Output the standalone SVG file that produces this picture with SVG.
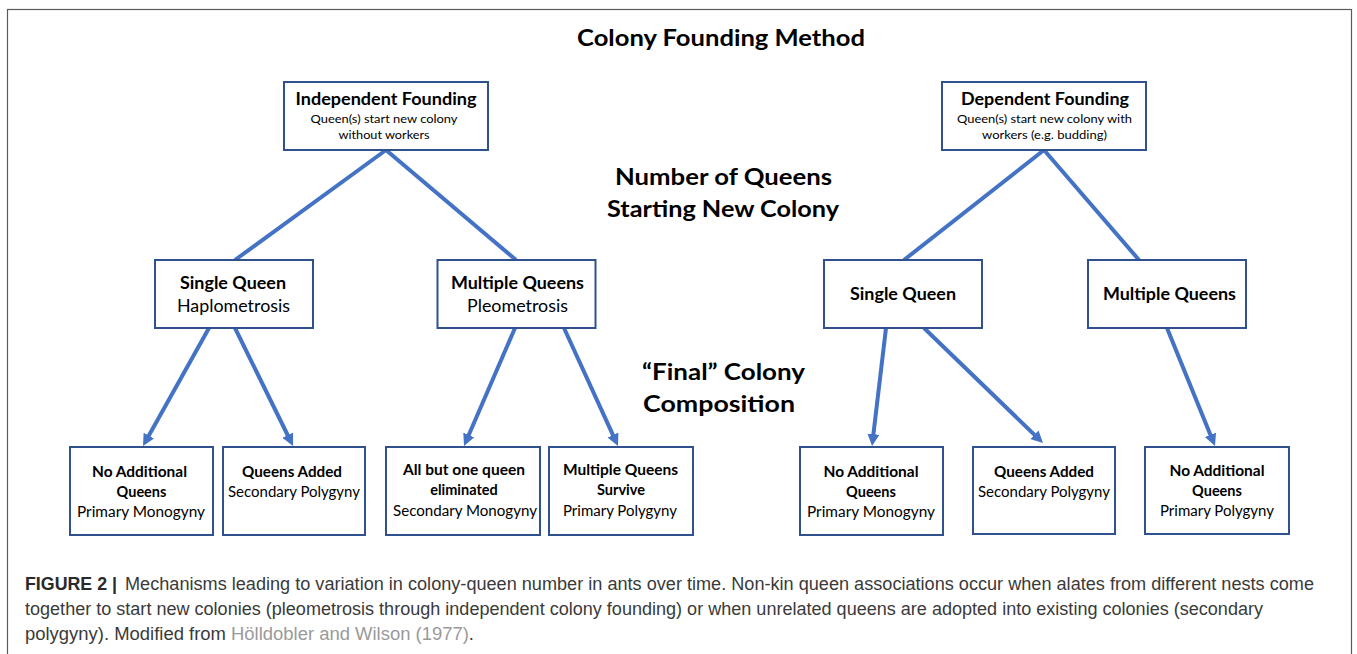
<svg xmlns="http://www.w3.org/2000/svg" width="1357" height="654" viewBox="0 0 1357 654">
<style>
.frame{fill:none;stroke:#5a5a5a;stroke-width:1.2}
.box{fill:#ffffff;stroke:#2F528F;stroke-width:2}
.con{stroke:#4472C4;stroke-width:4;fill:none;stroke-linecap:butt}
.t{font-family:Lato,"Open Sans","DejaVu Sans",sans-serif;fill:#000;text-anchor:middle}
.h1{font-size:23px;font-weight:bold}
.hb{font-size:16.5px;font-weight:bold}
.hr{font-size:16.5px}
.sm{font-size:12px}
.bb{font-size:14.5px;font-weight:bold}
.br{font-size:14.5px}
.cap{font-family:"Liberation Sans",Arial,sans-serif;font-size:17.5px;fill:#3a3a3a}
.capb{font-weight:bold;fill:#2a2a2a}
.link{fill:#9a9a9a}
</style>
<defs>
<marker id="ah" markerUnits="userSpaceOnUse" markerWidth="14" markerHeight="14" refX="2" refY="6" orient="auto">
<path d="M0,0 L12,6 L0,12 z" fill="#4472C4"/>
</marker>
</defs>
<rect width="1357" height="654" fill="#ffffff"/>
<rect class="frame" x="7.5" y="9.5" width="1344" height="700"/>

<g id="titles">
<text class="t h1" x="721" y="46" textLength="288" lengthAdjust="spacingAndGlyphs">Colony Founding Method</text>
<text class="t h1" x="723.5" y="185" textLength="217" lengthAdjust="spacingAndGlyphs">Number of Queens</text>
<text class="t h1" x="723" y="217" textLength="232" lengthAdjust="spacingAndGlyphs">Starting New Colony</text>
<text class="t h1" x="723.5" y="380" textLength="163" lengthAdjust="spacingAndGlyphs">“Final” Colony</text>
<text class="t h1" x="719" y="412" textLength="152" lengthAdjust="spacingAndGlyphs">Composition</text>
</g>

<g id="connectors">
<line class="con" x1="386" y1="150" x2="235" y2="260"/>
<line class="con" x1="386" y1="150" x2="516" y2="260"/>
<line class="con" x1="1044" y1="150" x2="904" y2="260"/>
<line class="con" x1="1044" y1="150" x2="1139" y2="260"/>
<line class="con" x1="209" y1="328" x2="147.9" y2="437.3" marker-end="url(#ah)"/>
<line class="con" x1="235" y1="328" x2="288.6" y2="437.0" marker-end="url(#ah)"/>
<line class="con" x1="515" y1="328" x2="468.0" y2="436.8" marker-end="url(#ah)"/>
<line class="con" x1="564" y1="328" x2="613.8" y2="436.9" marker-end="url(#ah)"/>
<line class="con" x1="886" y1="328" x2="873.2" y2="436.1" marker-end="url(#ah)"/>
<line class="con" x1="924" y1="328" x2="1035.8" y2="436.1" marker-end="url(#ah)"/>
<line class="con" x1="1167" y1="328" x2="1211.2" y2="436.7" marker-end="url(#ah)"/>
</g>

<g id="independent">
<rect class="box" x="284" y="82" width="204" height="68"/>
<text class="t hb" x="386" y="105" textLength="181" lengthAdjust="spacingAndGlyphs">Independent Founding</text>
<text class="t sm" x="384" y="123" textLength="147" lengthAdjust="spacingAndGlyphs">Queen(s) start new colony</text>
<text class="t sm" x="384" y="139" textLength="91" lengthAdjust="spacingAndGlyphs">without workers</text>
</g>
<g id="dependent">
<rect class="box" x="942" y="82" width="204" height="68"/>
<text class="t hb" x="1045" y="105" textLength="168" lengthAdjust="spacingAndGlyphs">Dependent Founding</text>
<text class="t sm" x="1044.5" y="123" textLength="175" lengthAdjust="spacingAndGlyphs">Queen(s) start new colony with</text>
<text class="t sm" x="1044.5" y="139" textLength="125" lengthAdjust="spacingAndGlyphs">workers (e.g. budding)</text>
</g>

<g id="single-left">
<rect class="box" x="155" y="260" width="158" height="68"/>
<text class="t hb" x="233" y="289" textLength="106" lengthAdjust="spacingAndGlyphs">Single Queen</text>
<text class="t hr" x="233.5" y="312" textLength="113" lengthAdjust="spacingAndGlyphs">Haplometrosis</text>
</g>
<g id="multiple-left">
<rect class="box" x="437.5" y="260" width="158" height="68"/>
<text class="t hb" x="517.5" y="289" textLength="133" lengthAdjust="spacingAndGlyphs">Multiple Queens</text>
<text class="t hr" x="517.5" y="312" textLength="101" lengthAdjust="spacingAndGlyphs">Pleometrosis</text>
</g>
<g id="single-right">
<rect class="box" x="824" y="260" width="158" height="68"/>
<text class="t hb" x="903" y="300" textLength="106" lengthAdjust="spacingAndGlyphs">Single Queen</text>
</g>
<g id="multiple-right">
<rect class="box" x="1088" y="260" width="158" height="68"/>
<text class="t hb" x="1169.5" y="300" textLength="133" lengthAdjust="spacingAndGlyphs">Multiple Queens</text>
</g>

<g id="b1">
<rect class="box" x="70" y="447" width="143" height="88"/>
<text class="t bb" x="139.5" y="477" textLength="95" lengthAdjust="spacingAndGlyphs">No Additional</text>
<text class="t bb" x="141.5" y="497">Queens</text>
<text class="t br" x="141" y="517" textLength="128" lengthAdjust="spacingAndGlyphs">Primary Monogyny</text>
</g>
<g id="b2">
<rect class="box" x="223" y="447" width="142" height="88"/>
<text class="t bb" x="292" y="477" textLength="100" lengthAdjust="spacingAndGlyphs">Queens Added</text>
<text class="t br" x="294" y="497" textLength="132" lengthAdjust="spacingAndGlyphs">Secondary Polygyny</text>
</g>
<g id="b3">
<rect class="box" x="386" y="447" width="154" height="88"/>
<text class="t bb" x="464" y="475" textLength="122" lengthAdjust="spacingAndGlyphs">All but one queen</text>
<text class="t bb" x="464" y="495">eliminated</text>
<text class="t br" x="465" y="516" textLength="144" lengthAdjust="spacingAndGlyphs">Secondary Monogyny</text>
</g>
<g id="b4">
<rect class="box" x="549" y="447" width="144" height="88"/>
<text class="t bb" x="620.5" y="475" textLength="115" lengthAdjust="spacingAndGlyphs">Multiple Queens</text>
<text class="t bb" x="621" y="495">Survive</text>
<text class="t br" x="620" y="516" textLength="114" lengthAdjust="spacingAndGlyphs">Primary Polygyny</text>
</g>
<g id="b5">
<rect class="box" x="800" y="447" width="143" height="88"/>
<text class="t bb" x="871" y="477" textLength="95" lengthAdjust="spacingAndGlyphs">No Additional</text>
<text class="t bb" x="871" y="497">Queens</text>
<text class="t br" x="871" y="517" textLength="128" lengthAdjust="spacingAndGlyphs">Primary Monogyny</text>
</g>
<g id="b6">
<rect class="box" x="973" y="447" width="142" height="87"/>
<text class="t bb" x="1044" y="477" textLength="100" lengthAdjust="spacingAndGlyphs">Queens Added</text>
<text class="t br" x="1044" y="497" textLength="132" lengthAdjust="spacingAndGlyphs">Secondary Polygyny</text>
</g>
<g id="b7">
<rect class="box" x="1145" y="447" width="144" height="87"/>
<text class="t bb" x="1217" y="476" textLength="95" lengthAdjust="spacingAndGlyphs">No Additional</text>
<text class="t bb" x="1217" y="496">Queens</text>
<text class="t br" x="1217" y="516" textLength="114" lengthAdjust="spacingAndGlyphs">Primary Polygyny</text>
</g>

<g id="caption">
<text class="cap capb" x="25" y="590" textLength="92" lengthAdjust="spacingAndGlyphs">FIGURE 2 |</text>
<text class="cap" x="125" y="590" textLength="1189" lengthAdjust="spacingAndGlyphs">Mechanisms leading to variation in colony-queen number in ants over time. Non-kin queen associations occur when alates from different nests come</text>
<text class="cap" x="25" y="615" textLength="1238" lengthAdjust="spacingAndGlyphs">together to start new colonies (pleometrosis through independent colony founding) or when unrelated queens are adopted into existing colonies (secondary</text>
<text class="cap" x="25" y="640" textLength="449" lengthAdjust="spacingAndGlyphs">polygyny). Modified from <tspan class="link">Hölldobler and Wilson (1977)</tspan>.</text>
</g>
</svg>
